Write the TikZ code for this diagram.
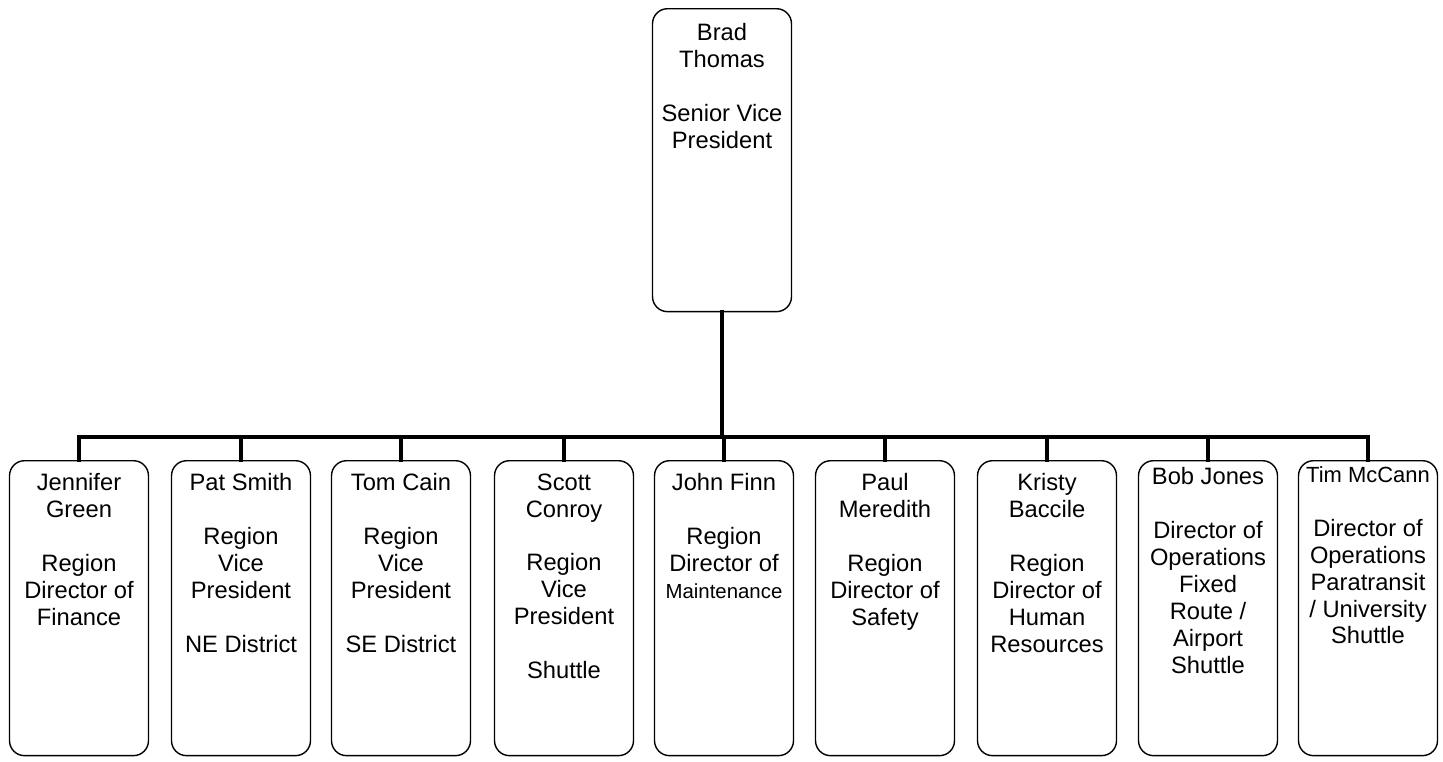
\documentclass[tikz,border=0pt]{standalone}
\usepackage{fontspec}
\setmainfont{Liberation Sans}
\newcommand{\cardtext}[2]{\parbox[t][#1][t]{2.78cm}{\centering #2}}

\begin{document}
\begin{tikzpicture}[
    x=0.02cm, y=-0.02cm,
    member/.style={draw, line width=0.8pt, rounded corners=0.3cm, anchor=north,
                   inner xsep=0pt, inner ysep=0.26cm,
                   font=\fontsize{13.5}{15.3}\selectfont},
    link/.style={line width=2.8pt, line cap=rect}
]
    \useasboundingbox (0,0) rectangle (1443,761);

    \node[member, inner ysep=0.3cm] (bt) at (722,8)
        {\cardtext{5.46cm}{Brad\\Thomas\\[\baselineskip]Senior Vice\\President}};

    \node[member] (jg) at (79,460)
        {\cardtext{5.38cm}{Jennifer\\Green\\[\baselineskip]Region\\Director of\\Finance}};
    \node[member] (ps) at (241,460)
        {\cardtext{5.38cm}{Pat Smith\\[\baselineskip]Region\\Vice\\President\\[\baselineskip]NE District}};
    \node[member] (tc) at (401,460)
        {\cardtext{5.38cm}{Tom Cain\\[\baselineskip]Region\\Vice\\President\\[\baselineskip]SE District}};
    \node[member] (sc) at (564,460)
        {\cardtext{5.38cm}{Scott\\Conroy\\[\baselineskip]Region\\Vice\\President\\[\baselineskip]Shuttle}};
    \node[member] (jf) at (724,460)
        {\cardtext{5.38cm}{John Finn\\[\baselineskip]Region\\Director of\\{\fontsize{11.6}{15.3}\selectfont Maintenance}}};
    \node[member] (pm) at (885,460)
        {\cardtext{5.38cm}{Paul\\Meredith\\[\baselineskip]Region\\Director of\\Safety}};
    \node[member] (kb) at (1047,460)
        {\cardtext{5.38cm}{Kristy\\Baccile\\[\baselineskip]Region\\Director of\\Human\\Resources}};
    \node[member, inner ysep=0.14cm] (bj) at (1208,460)
        {\cardtext{5.62cm}{Bob Jones\\[\baselineskip]Director of\\Operations\\Fixed\\Route /\\Airport\\Shuttle}};
    \node[member, inner ysep=0.12cm] (tm) at (1368,460)
        {\cardtext{5.66cm}{{\fontsize{12.5}{15.3}\selectfont Tim McCann}\\[\baselineskip]Director of\\Operations\\Paratransit\\/ University\\Shuttle}};

    % reporting lines
    \coordinate (bus) at (0,437);
    \draw[link] (bt.south) -- (bt.south |- bus);
    \draw[link] (jg.north) -- (jg.north |- bus) -- (tm.north |- bus) -- (tm.north);
    \foreach \n in {ps,tc,sc,jf,pm,kb,bj}
        \draw[link] (\n.north) -- (\n.north |- bus);
\end{tikzpicture}
\end{document}
